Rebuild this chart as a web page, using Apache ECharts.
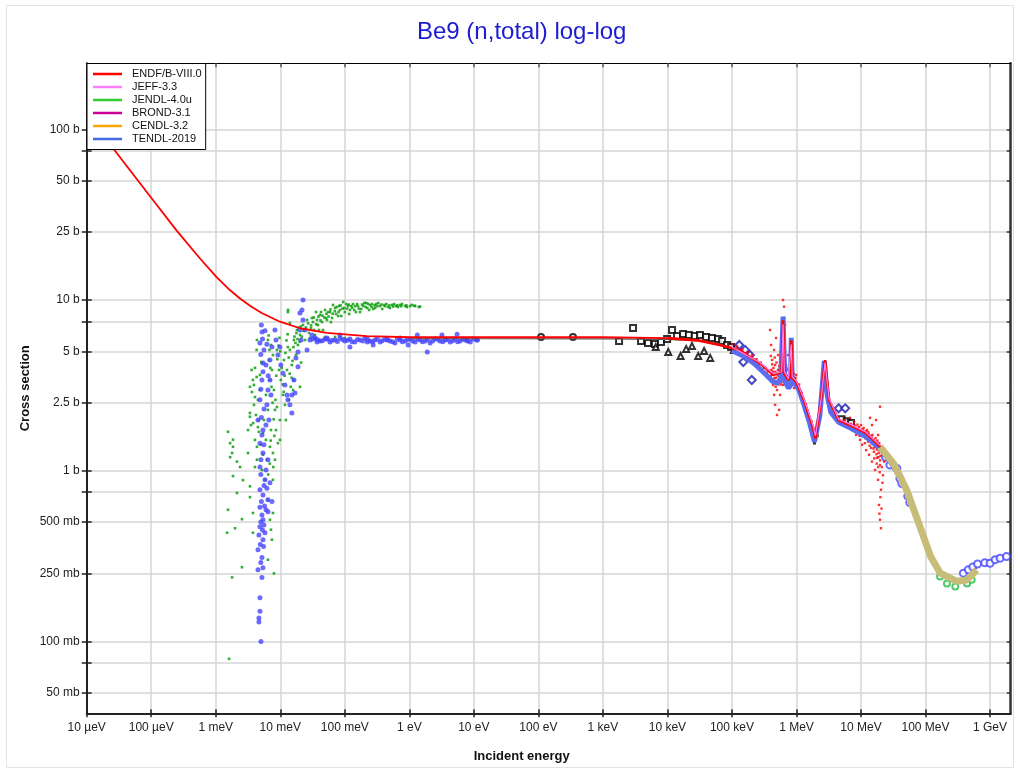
<!DOCTYPE html>
<html><head><meta charset="utf-8">
<script src="https://cdn.jsdelivr.net/npm/echarts@6/dist/echarts.min.js"></script>
<style>html,body{margin:0;padding:0;background:#fff}#c{width:1020px;height:773px}</style>
</head><body><div id="c"></div>
<script>
// ---------- axes ----------
const xTickValues = [1e-5,1e-4,1e-3,1e-2,1e-1,1,10,100,1e3,1e4,1e5,1e6,1e7,1e8,1e9];
const xTickLabels = ['10 µeV','100 µeV','1 meV','10 meV','100 meV','1 eV','10 eV','100 eV','1 keV','10 keV','100 keV','1 MeV','10 MeV','100 MeV','1 GeV'];
const yTickValues = [0.05,0.075,0.1,0.25,0.5,0.75,1,2.5,5,7.5,10,25,50,75,100];
const yLabelValues = [0.05,0.1,0.25,0.5,1,2.5,5,10,25,50,100];
const yLabelTexts = ['50 mb','100 mb','250 mb','500 mb','1 b','2.5 b','5 b','10 b','25 b','50 b','100 b'];
const xMin = 1e-5, xMax = 2.09e9, yMin = 0.0379, yMax = 243.6;

// ---------- evaluated curves (E in eV, sigma in b) ----------
const endfLow = [[1e-5,122.9],[1.61e-5,97.3],[2.56e-5,77.5],[5.96e-5,51.1],[1.02e-4,39.3],[2.48e-4,25.5],[5.7e-4,17.5],[1.03e-3,13.6],[1.67e-3,11.4],[2.38e-3,10.2],[3.39e-3,9.26],[5.15e-3,8.39],[9.88e-3,7.46],[2.02e-2,6.83],[5.25e-2,6.41],[0.218,6.15],[1.03,6.05],[100,6.06],[1e3,6.05],[1e4,5.98]];
const endfHigh = [[1e4,5.98],[3e4,5.8],[6.5e4,5.45],[1.3e5,5.1],[2.7e5,4.26],[4.4e5,3.64],[5.9e5,3.8],[6.2e5,7.6],[6.5e5,3.7],[7.5e5,3.4],[8.1e5,3.6],[8.3e5,5.8],[8.6e5,3.5],[1.0e6,3.3],[1.3e6,2.6],[1.8e6,1.8],[1.97e6,1.55],[2.4e6,2.6],[2.77e6,4.45],[3.2e6,2.6],[4.5e6,1.98],[7.7e6,1.81],[1.2e7,1.66],[2.0e7,1.38]];
const jeffCurve = [[1e5,5.3],[2.7e5,4.3],[4.4e5,3.7],[5.9e5,3.8],[6.2e5,7.2],[6.5e5,3.8],[7.5e5,3.45],[8.3e5,5.5],[8.6e5,3.55],[1.0e6,3.35],[1.3e6,2.65],[1.8e6,1.85],[1.97e6,1.6],[2.4e6,2.6],[2.77e6,4.3],[3.2e6,2.65],[4.5e6,2.0],[7.7e6,1.83],[1.2e7,1.68],[2.0e7,1.4]];
const tendlBand = [[1e5,5.05],[1.6e5,4.65],[2.2e5,4.25],[2.8e5,3.9],[3.5e5,3.6],[4.2e5,3.35],[5.0e5,3.25],[5.7e5,3.45],[6.2e5,8.0],[6.6e5,3.35],[7.5e5,3.05],[8.1e5,3.15],[8.3e5,6.0],[8.6e5,3.25],[9.5e5,3.25],[1.1e6,2.95],[1.3e6,2.45],[1.6e6,1.9],[1.9e6,1.48],[2.3e6,2.1],[2.7e6,4.4],[3.0e6,2.75],[3.4e6,2.2],[4.5e6,1.92],[7e6,1.77],[1.2e7,1.58],[2e7,1.34],[3e7,1.1],[4.5e7,0.84]];
const tanCurve = [[1.97e7,1.38],[3.2e7,1.10],[5.1e7,0.77],[8.2e7,0.47],[1.2e8,0.314],[1.7e8,0.251],[3.05e8,0.225],[4.36e8,0.229],[6.2e8,0.262]];
const blackLine = [[1,5.93],[10,5.93],[1e3,5.92],[1e4,5.88],[3e4,5.75]];

// ---------- experimental points ----------
const expGreen = [[1.55e-3,1.69],[1.85e-3,1.52],[1.79e-3,1.27],[2.13e-3,1.13],[1.67e-3,1.2],[2.38e-3,1.05],[1.85e-3,0.93],[2.64e-3,0.88],[3.39e-3,0.81],[2.13e-3,0.74],[1.55e-3,0.59],[2.55e-3,0.52],[1.5e-3,0.433],[1.79e-3,0.237],[2.55e-3,0.272],[1.61e-3,0.079],[1.99e-3,0.46],[3.77e-3,0.565],[3.39e-3,2.18],[4.05e-3,2.7],[3.77e-3,3.4],[4.35e-3,5.83],[5.2e-3,4.28],[4.35e-3,1.38],[4.05e-3,1.05],[3.39e-3,0.7],[3.77e-3,0.433],[3.16e-3,1.27],[4.51e-3,1.8],[6.44e-3,0.301],[7.98e-3,0.25],[7.7e-3,0.565],[7.7e-3,0.884],[7.7e-3,1.27],[9.88e-3,1.515],[9.88e-3,1.98],[8.88e-3,2.36],[1.31e-2,8.5],[1.6e-2,3.4],[1.31e-2,5.3],[2.02e-2,3.1],[2.1e-2,4.3],
[1.67e-3,1.45],[1.85e-3,1.38],[3.16e-3,1.73],[3.39e-3,2.07],[3.39e-3,3.1],[4.3e-3,3.54],[4.05e-3,4.0],[5.1e-3,4.33],[4.3e-3,5.1],[3.6e-3,3.89],[4.84e-3,2.97],[4.6e-3,1.98],[5.4e-3,1.66],[3.8e-3,1.9],[6.92e-3,1.38],[9.2e-3,1.45],[1.32e-2,8.74],[1.41e-2,7.33],[1.58e-2,2.97],
[3.64e-3,2.89],[3.91e-3,2.43],[4.2e-3,2.12],[4.51e-3,2.6],[4.67e-3,1.69],[5.02e-3,1.42],[5.39e-3,1.24],[5.2e-3,1.01],[4.35e-3,1.16],[4.05e-3,1.515],[3.51e-3,1.85],[3.91e-3,3.18],[4.84e-3,3.64],[6.0e-3,2.78],[5.58e-3,1.98],[6.0e-3,1.515],[6.21e-3,1.16],[5.79e-3,0.884],[6.44e-3,0.675],[6.92e-3,0.516],[7.17e-3,0.451],[7.43e-3,0.394],[6.44e-3,2.27],[7.17e-3,1.73],[6.92e-3,3.4],[6.67e-3,4.45],[6.44e-3,5.83],[7.17e-3,5.45],[7.7e-3,4.76],[7.43e-3,3.89],[7.98e-3,2.97],[8.27e-3,2.27],[8.57e-3,1.73],[8.27e-3,1.16],[8.88e-3,5.1],[9.54e-3,3.89],[1.02e-2,3.4],[1.1e-2,2.78],[1.18e-2,2.43],[1.14e-2,4.45],[1.27e-2,3.89],[1.36e-2,2.6],[1.22e-2,1.98],[1.41e-2,5.1],[1.51e-2,4.16],[1.63e-2,5.83],[1.75e-2,4.76],[1.81e-2,6.67],[1.88e-2,5.45],[2.02e-2,6.24],[2.25e-2,7.14],[2.42e-2,5.83],[2.6e-2,7.64],[2.79e-2,6.41],
[6.6e-3,6.2],[6.8e-3,5.1],[7.0e-3,4.0],[7.3e-3,3.1],[7.6e-3,2.5],[7.9e-3,2.0],[7.1e-3,1.5],[6.9e-3,1.1],[6.5e-3,0.95],[7.8e-3,1.05],[8.1e-3,1.6],[8.4e-3,2.6],[8.7e-3,3.6],[9.0e-3,4.5],[9.4e-3,5.4],[9.7e-3,6.0],[1.0e-2,5.0],[1.05e-2,4.0],[1.09e-2,3.2],[1.13e-2,2.9],[1.17e-2,3.6],[1.2e-2,4.9],[1.25e-2,5.8],[1.3e-2,6.3],[1.35e-2,4.6],[1.4e-2,3.7],[1.45e-2,3.1],[1.5e-2,3.5],[1.55e-2,4.4],[1.6e-2,5.3],[1.66e-2,6.1],[1.72e-2,5.6],[1.78e-2,6.4],[1.85e-2,5.9],[1.92e-2,6.9],[2.0e-2,5.7],[2.08e-2,7.0],[2.16e-2,6.1],[2.3e-2,6.6],[2.5e-2,6.9],[2.7e-2,7.3],
[2.89e-2,5.99],[3.1e-2,7.84],[3.33e-2,6.67],[3.58e-2,8.5],[3.84e-2,7.14],[4.13e-2,8.17],[4.43e-2,7.43],[4.94e-2,8.74],[5.3e-2,7.64],[5.9e-2,8.5],[6.34e-2,7.84],[7.07e-2,8.98],[7.89e-2,8.06],[8.4e-2,8.74],[9.45e-2,9.73],[0.1,8.5],[0.112,9.22],[0.12,8.74],[0.134,9.47],[0.149,8.5],[0.16,9.22],[0.179,8.86],[0.2,9.6],[0.223,8.98],[0.246,9.35],[0.275,8.86],[0.306,9.47],[0.352,9.22],[0.406,9.35],[0.468,9.1],[0.539,9.35],[0.62,9.22],[0.718,9.35],[0.86,9.22],[1.03,9.22],[1.23,9.22],[1.47,9.15],
[2.99e-2,6.85],[3.21e-2,7.43],[3.45e-2,6.24],[3.71e-2,7.64],[3.98e-2,6.67],[4.28e-2,8.5],[4.6e-2,6.67],[5.12e-2,7.84],[5.5e-2,8.5],[6.1e-2,7.43],[6.57e-2,9.35],[7.33e-2,8.28],[8.17e-2,9.22],[8.8e-2,8.06],[9.8e-2,8.98],[0.105,9.47],[0.117,8.28],[0.126,9.22],[0.14,8.74],[0.155,9.47],[0.172,8.5],[0.193,9.22],[0.215,9.6],[0.238,8.74],[0.265,9.47],[0.295,8.98],[0.33,9.6],[0.38,8.86],[0.44,9.47],[0.5,8.98],[0.58,9.47],[0.667,9.1],[0.77,9.47],[0.92,9.1],[1.1,9.35],[1.4,9.1],
[3.0e-2,7.1],[3.3e-2,7.9],[3.6e-2,7.2],[3.9e-2,8.0],[4.2e-2,7.6],[4.5e-2,8.1],[4.8e-2,7.9],[5.2e-2,8.3],[5.6e-2,8.0],[6.0e-2,8.8],[6.5e-2,8.3],[7.0e-2,8.6],[7.5e-2,9.1],[8.0e-2,8.5],[8.6e-2,9.3],[9.2e-2,8.9],[0.108,8.9],[0.115,9.4],[0.13,9.0],[0.145,9.2],[0.165,8.9],[0.185,9.4],[0.21,9.1],[0.23,9.5],[0.26,9.1],[0.29,9.3],[0.32,9.2],[0.37,9.4],[0.42,9.2],[0.49,9.3],[0.56,9.15],[0.65,9.3],[0.75,9.2],[0.9,9.3],[1.2,9.25],
[3.58e-2,5.99],[4.94e-2,6.07],[7.07e-2,6.07],[0.1,5.99]];

const expBlue = [[4.84e-3,1.45],[5.39e-3,1.27],[4.84e-3,1.05],[6.44e-3,1.16],[5.79e-3,0.884],[6.92e-3,0.85],[4.84e-3,0.773],[6.44e-3,0.675],[4.84e-3,0.61],[5.39e-3,0.516],[4.84e-3,0.47],[5.79e-3,0.433],[5.39e-3,0.394],[4.51e-3,0.344],[5.2e-3,0.31],[4.51e-3,0.263],[5.39e-3,0.27],[5.2e-3,0.237],[4.84e-3,0.18],[4.84e-3,0.15],[4.67e-3,0.137],[4.67e-3,0.13],[5.02e-3,0.1],[7.43e-3,0.66],[6.44e-3,0.575],
[5.2e-3,1.62],[5.58e-3,1.42],[5.02e-3,1.16],[6.0e-3,1.01],[5.39e-3,0.72],[6.0e-3,0.59],[5.2e-3,0.55],[5.58e-3,0.48],[4.67e-3,0.42],[6.21e-3,0.79],[5.0e-3,0.95],[5.6e-3,0.82],[5.1e-3,0.66],[5.7e-3,0.62],[5.0e-3,0.5],[5.3e-3,0.45],[4.9e-3,0.37],[5.5e-3,0.36],[5.0e-3,0.29],
[5.1e-3,7.14],[4.84e-3,5.6],[5.39e-3,4.28],[5.2e-3,3.4],[4.84e-3,2.6],[4.51e-3,1.98],[5.39e-3,1.73],[6.92e-3,3.4],[7.43e-3,5.3],[8.27e-3,6.67],[9.88e-3,5.3],[1.1e-2,3.72],[1.31e-2,2.6],[1.51e-2,2.18],[1.69e-2,2.85],[1.88e-2,4.06],[2.1e-2,5.83],[2.25e-2,7.64],[2.25e-2,10],[2.02e-2,8.4],[2.6e-2,5.1],[3.1e-2,6.24],[3.71e-2,5.68],[5.3e-2,5.99],[8.4e-2,6.24],[0.12,5.3],[0.223,5.68],[0.275,5.45],[0.45,5.83],[0.718,5.99],[0.96,5.45],[1.33,6.24],[1.9,4.96],[3.2,6.24],[5.5,6.3],[7.9,5.83],[11.4,5.83],
[5.2e-3,6.5],[5.58e-3,5.1],[6.0e-3,4.16],[6.44e-3,2.97],[6.21e-3,2.43],[6.67e-3,1.98],[6.92e-3,4.45],[7.17e-3,2.78],[6.0e-3,1.85],[5.3e-3,5.9],[5.0e-3,4.8],[5.4e-3,3.8],[5.0e-3,3.0],[5.6e-3,2.3],[5.1e-3,2.05],[5.8e-3,6.6],[6.2e-3,5.5],[6.5e-3,3.6],
[8.57e-3,5.83],[9.2e-3,4.76],[1.02e-2,4.16],[1.18e-2,3.18],[1.27e-2,2.78],[1.41e-2,2.43],[1.51e-2,2.78],[1.63e-2,3.4],[1.75e-2,4.58],[1.88e-2,4.96],[2.02e-2,6.67],[2.17e-2,8.74],[2.42e-2,6.67],
[2.89e-2,5.83],[3.45e-2,5.99],[4.13e-2,5.76],[4.94e-2,5.91],[5.9e-2,5.68],[7.07e-2,5.83],[8.4e-2,5.99],[0.1,5.76],[0.12,5.91],[0.143,5.68],[0.172,5.83],[0.205,5.99],[0.246,5.76],[0.295,5.83],[0.352,5.68],[0.42,5.91],[0.5,5.76],[0.6,5.6],[0.718,5.83],[0.86,5.76],[1.03,5.91],[1.23,5.68],[1.47,5.83],[1.76,5.76],[2.1,5.6],[2.5,5.91],[2.99,5.76],[3.6,5.83],[4.3,5.68],[5.1,5.91],[6.1,5.76],[7.3,5.83],[8.8,5.68],[11,5.83],
[3.2e-2,5.9],[3.8e-2,5.85],[4.5e-2,5.78],[5.4e-2,5.88],[6.4e-2,5.8],[7.7e-2,5.72],[9.2e-2,5.86],[0.11,5.8],[0.13,5.7],[0.157,5.86],[0.19,5.75],[0.225,5.88],[0.27,5.7],[0.32,5.9],[0.38,5.78],[0.46,5.86],[0.55,5.7],[0.65,5.9],[0.78,5.7],[0.94,5.86],[1.12,5.76],[1.35,5.9],[1.6,5.7],[1.92,5.86],[2.3,5.76],[2.75,5.88],[3.3,5.7],[3.9,5.86],[4.7,5.78],[5.6,5.7],[6.7,5.9],[8.0,5.75],[9.7,5.9]];

const expBlackCircles = [[110,6.07],[344,6.07]];
const expBlackSquares = [[1.78e3,5.76],[2.93e3,6.85],[3.9e3,5.76],[5e3,5.6],[6.4e3,5.52],[7.96e3,5.68],[9.9e3,5.91],[1.18e4,6.67],[1.41e4,6.15],[1.75e4,6.32],[2.15e4,6.24],[2.66e4,6.15],[3.2e4,6.24],[3.98e4,6.07],[4.9e4,5.99],[6.1e4,5.91],[7.03e4,5.76],[8.4e4,5.45],[9.7e4,5.3],[5e6,2.0],[6e6,1.95],[7e6,1.9]];
const expBlackTriangles = [[6.6e3,5.3],[1.03e4,4.96],[1.6e4,4.7],[1.95e4,5.17],[2.4e4,5.38],[3e4,4.7],[3.7e4,5.03],[4.6e4,4.58],[1.07e5,5.1]];
const expBlackDots = [[1.5e6,2.1],[1.9e6,1.45],[2.1e6,1.6],[3.5e6,2.2],[4e6,2.05],[5e6,1.9],[6e6,1.85]];
const expBlueDiamonds = [[1.3e5,5.45],[1.6e5,5.1],[1.9e5,4.76],[1.5e5,4.33],[2.03e5,3.4],[4.5e6,2.32],[5.7e6,2.32]];
const expRed = [[3.9e5,6.67],[4.04e5,5.45],[4.19e5,4.45],[4.19e5,3.64],[4.34e5,3.18],[4.5e5,5.1],[4.5e5,2.78],[4.66e5,4.16],[4.66e5,2.43],[4.83e5,5.99],[4.83e5,3.49],[5.0e5,2.97],[5.18e5,4.76],[5.18e5,3.89],[5.37e5,3.31],[5.57e5,4.33],[5.57e5,2.78],[5.77e5,3.78],[5.98e5,5.1],[6.19e5,3.18],[6.42e5,7.84],[6.42e5,5.83],[6.65e5,3.64],[6.89e5,4.16],[7.14e5,3.31],[7.4e5,4.76],[7.67e5,3.78],[7.95e5,3.18],[8.24e5,5.45],[8.54e5,3.49],[8.85e5,3.89],[9.17e5,3.05],[9.5e5,3.4],[9.85e5,3.64],[6.42e5,9.14],[6.65e5,7.14],[6.19e5,10],[5.37e5,2.27],[5.0e5,2.12],
[4.1e5,3.9],[4.25e5,3.3],[4.4e5,4.0],[4.55e5,3.5],[4.7e5,3.8],[4.9e5,3.3],[5.1e5,3.6],[5.3e5,3.9],[5.5e5,3.5],[5.7e5,3.2],[5.9e5,3.7],[6.0e5,4.5],[6.3e5,6.5],[6.35e5,5.2],[6.5e5,4.4],[6.7e5,3.9],[6.95e5,3.6],[7.2e5,3.9],[7.5e5,3.5],[7.8e5,3.3],[8.0e5,3.6],[8.3e5,4.4],[8.7e5,3.6],[9.0e5,3.3],[9.3e5,3.5],[9.7e5,3.3],
[4.0e5,4.7],[4.2e5,4.2],[4.3e5,3.8],[4.45e5,3.4],[4.6e5,4.6],[4.75e5,3.1],[4.9e5,4.3],[5.05e5,3.7],[5.2e5,3.2],[5.4e5,4.1],[5.6e5,3.6],[5.75e5,4.3],[5.85e5,3.3],[6.05e5,3.9],[6.1e5,5.6],[6.25e5,4.9],[6.4e5,4.2],[6.55e5,3.4],[6.8e5,3.3],[7.0e5,4.0],[7.3e5,3.6],[7.6e5,3.4],[7.9e5,3.9],[8.1e5,3.4],[8.4e5,3.7],[8.8e5,3.5],[9.1e5,3.7],[9.6e5,3.5],
[1.0e5,5.5],[1.1e5,5.2],[1.2e5,5.35],[1.3e5,5.0],[1.45e5,5.15],[1.6e5,4.8],[1.75e5,4.95],[1.9e5,4.6],[2.05e5,4.75],[2.2e5,4.4],[2.4e5,4.5],[2.6e5,4.15],[2.8e5,4.3],[3.0e5,3.95],[3.25e5,4.05],[3.5e5,3.75],[3.75e5,3.85],[4.0e5,3.6],
[1.1e6,3.2],[1.2e6,2.85],[1.4e6,2.45],[1.55e6,2.15],[1.7e6,1.95],[1.85e6,1.7],[2.0e6,1.62],[2.2e6,2.1],[2.5e6,3.0],[2.65e6,3.9],[2.8e6,4.1],[2.9e6,3.3],[3.1e6,2.8],[3.4e6,2.4],[3.8e6,2.15],[4.2e6,2.05],
[5.66e6,1.98],[6.3e6,1.85],[6.77e6,2.04],[7.3e6,1.73],[7.8e6,1.93],[8.4e6,1.62],[9.0e6,1.78],[9.67e6,1.515],[1.0e7,1.85],[1.04e7,1.42],[1.08e7,1.69],[1.16e7,1.55],[1.2e7,1.32],[1.24e7,1.73],[1.29e7,1.48],[1.33e7,1.24],[1.38e7,1.6],[1.43e7,1.36],[1.48e7,1.13],[1.54e7,1.515],[1.59e7,1.29],[1.65e7,1.01],[1.71e7,1.42],[1.77e7,1.19],[1.84e7,0.884],[1.9e7,1.32],[1.97e7,1.08],[2.04e7,0.773],[2.12e7,1.24],[2.19e7,0.94],[1.97e7,0.516],[2.04e7,0.46],[1.9e7,0.63],[2.27e7,1.13],[1.84e7,1.62],[1.71e7,1.98],[1.48e7,1.85],[1.38e7,2.04],[1.97e7,2.37],
[6.0e6,1.9],[6.5e6,1.78],[7.0e6,1.88],[7.5e6,1.76],[8.0e6,1.84],[8.7e6,1.72],[9.3e6,1.8],[9.9e6,1.66],[1.06e7,1.75],[1.12e7,1.62],[1.18e7,1.7],[1.26e7,1.58],[1.32e7,1.64],[1.4e7,1.5],[1.46e7,1.58],[1.52e7,1.44],[1.58e7,1.52],[1.64e7,1.38],[1.7e7,1.47],[1.76e7,1.33],[1.82e7,1.42],[1.88e7,1.27],[1.94e7,1.36],[2.0e7,1.22],[1.6e7,1.18],[1.75e7,1.1],[1.85e7,1.05],[1.95e7,0.98],
[8.2e6,1.7],[8.8e6,1.86],[9.5e6,1.6],[1.02e7,1.7],[1.1e7,1.78],[1.15e7,1.45],[1.22e7,1.6],[1.3e7,1.68],[1.36e7,1.4],[1.42e7,1.55],[1.5e7,1.62],[1.56e7,1.35],[1.62e7,1.46],[1.68e7,1.55],[1.74e7,1.25],[1.8e7,1.5],[1.86e7,1.2],[1.92e7,1.45],[1.98e7,1.15],[2.05e7,1.35],[2.1e7,1.05],[2.15e7,0.85],[2.0e7,0.7],[1.93e7,0.56],[2.08e7,0.6]];
const expBlueCircles = [[2.4e7,1.2],[2.8e7,1.08],[3.6e7,1.03],[4.0e7,0.9],[4.3e7,0.84],[5.3e7,0.71],[5.7e7,0.65],[3.86e8,0.251],[4.6e8,0.263],[5.4e8,0.273],[6.4e8,0.284],[8.3e8,0.289],[1e9,0.287],[1.2e9,0.301],[1.43e9,0.307],[1.8e9,0.314]];
const expGreenCircles = [[1.68e8,0.24],[2.15e8,0.218],[2.9e8,0.21],[4.4e8,0.218],[5.2e8,0.23]];

// ---------- chart ----------
const FONT = 'Liberation Sans, Arial, sans-serif';
function xLabel(v){ const l=Math.round(Math.log10(v)); const i=xTickValues.findIndex(t=>Math.round(Math.log10(t))===l); return i>=0?xTickLabels[i]:''; }
function yLabel(v){ let best=0,bd=1e9; yLabelValues.forEach((t,i)=>{const d=Math.abs(Math.log10(t)-Math.log10(v)); if(d<bd){bd=d;best=i;}}); return yLabelTexts[best]; }

function xAx(extra){ return Object.assign({type:'log',logBase:10,min:xMin,max:xMax,
  axisLine:{show:false},axisTick:{show:false},axisLabel:{show:false},splitLine:{show:false}},extra); }
function yAx(extra){ return Object.assign({type:'log',logBase:10,min:yMin,max:yMax,
  axisLine:{show:false},axisTick:{show:false},axisLabel:{show:false},splitLine:{show:false}},extra); }

const chart = echarts.init(document.getElementById('c'), null, {renderer:'canvas'});
const lineSeries = (name, data, color, width, extra) => Object.assign({name, type:'line', data, showSymbol:false, symbol:'none',
  lineStyle:{color, width}, itemStyle:{color}, xAxisIndex:0, yAxisIndex:0, silent:true}, extra||{});
const scat = (name, data, symbol, size, color, extra) => Object.assign({name, type:'scatter', data, symbol, symbolSize:size,
  itemStyle:{color}, xAxisIndex:0, yAxisIndex:0, silent:true}, extra||{});

const legendNames = ['ENDF/B-VIII.0','JEFF-3.3','JENDL-4.0u','BROND-3.1','CENDL-3.2','TENDL-2019'];
chart.setOption({
  animation:false,
  backgroundColor:'#fff',
  graphic:[{type:'rect', silent:true, z:-10, shape:{x:6.5, y:5.5, width:1007, height:762}, style:{fill:'none', stroke:'#e2e2e2', lineWidth:1}}],
  title:{text:'Be9 (n,total) log-log', left:417, top:20, padding:0, textStyle:{fontFamily:FONT, fontSize:24, fontWeight:'normal', color:'#1c1cd0'}},
  grid:{left:86.7, right:9.3, top:63.3, bottom:59.7, containLabel:false},
  legend:{orient:'vertical', left:87, top:63.5, padding:[5,4,5,6], itemGap:2, itemWidth:29, itemHeight:2.5, icon:'rect',
    backgroundColor:'#fff', borderColor:'#000', borderWidth:1, borderRadius:0,
    textStyle:{fontFamily:FONT, fontSize:11, color:'#111', padding:[0,0,0,5], lineHeight:11},
    data:legendNames},
  xAxis:[
    xAx({position:'bottom', axisLine:{show:true, lineStyle:{color:'#222', width:2}},
      axisTick:{show:true, inside:false, length:4, customValues:xTickValues, lineStyle:{color:'#222', width:1.5}},
      axisLabel:{show:true, customValues:xTickValues, formatter:xLabel, fontFamily:FONT, fontSize:12, color:'#222', margin:8},
      splitLine:{show:true, lineStyle:{color:'#d6d6d6', width:1.5}},
      name:'Incident energy', nameLocation:'middle', nameGap:37, nameMoveOverlap:false, nameTextStyle:{fontFamily:FONT, fontSize:13, fontWeight:'bold', color:'#111', padding:[0,54,0,0]}}),
    xAx({position:'bottom', axisTick:{show:true, inside:true, length:4, customValues:xTickValues, lineStyle:{color:'#222', width:1.5}}}),
    xAx({position:'top', axisLine:{show:true, lineStyle:{color:'#000', width:1}},
      axisTick:{show:true, inside:true, length:4, customValues:xTickValues, lineStyle:{color:'#555', width:1.5}}})
  ],
  yAxis:[
    yAx({position:'left', axisLine:{show:true, lineStyle:{color:'#222', width:2}},
      axisTick:{show:true, inside:false, length:5, customValues:yTickValues, lineStyle:{color:'#222', width:1.5}},
      axisLabel:{show:true, customValues:yLabelValues, formatter:yLabel, fontFamily:FONT, fontSize:12, color:'#222', margin:7},
      splitLine:{show:true, lineStyle:{color:'#d6d6d6', width:1.5}},
      name:'Cross section', nameLocation:'middle', nameGap:55, nameMoveOverlap:false, nameRotate:90, nameTextStyle:{fontFamily:FONT, fontSize:13, fontWeight:'bold', color:'#111'}}),
    yAx({position:'left', axisTick:{show:true, inside:true, length:5, customValues:yTickValues, lineStyle:{color:'#222', width:1.5}}}),
    yAx({position:'right', axisLine:{show:true, lineStyle:{color:'#333', width:2.5}},
      axisTick:{show:true, inside:true, length:4, customValues:yTickValues, lineStyle:{color:'#333', width:1.5}}})
  ],
  series:[
    scat('exp-green', expGreen, 'rect', 2.6, '#009a00'),
    scat('exp-blue', expBlue, 'circle', 5, '#4646ff'),
    lineSeries('exp-line', blackLine, '#555', 1.2),
    scat('exp-circ', expBlackCircles, 'emptyCircle', 6, '#000', {itemStyle:{color:'#000', borderColor:'#000', borderWidth:1}}),
    scat('exp-sq', expBlackSquares, 'emptyRect', 6, '#000', {itemStyle:{color:'#000', borderColor:'#000', borderWidth:1}}),
    scat('exp-tri', expBlackTriangles, 'emptyTriangle', 6, '#000', {itemStyle:{color:'#000', borderColor:'#000', borderWidth:1}}),
    lineSeries('exp-band', tendlBand, '#5a6cf0', 5),
    scat('exp-dots', expBlackDots, 'rect', 3, '#111'),
    scat('exp-diam', expBlueDiamonds, 'emptyDiamond', 8, '#1a1ab0', {itemStyle:{color:'#1a1ab0', borderColor:'#1a1ab0', borderWidth:1.5}}),
    lineSeries('exp-tan', tanCurve, '#c8bd78', 7),
    scat('exp-bcirc', expBlueCircles, 'emptyCircle', 7, '#4646ff', {itemStyle:{color:'#4646ff', borderColor:'#4646ff', borderWidth:1.2}}),
    scat('exp-gcirc', expGreenCircles, 'emptyCircle', 6, '#22bb44', {itemStyle:{color:'#22bb44', borderColor:'#22bb44', borderWidth:1.2}}),
    lineSeries('TENDL-2019', endfHigh, '#4169e1', 1.5),
    lineSeries('CENDL-3.2', endfHigh, '#ffa500', 1.5),
    lineSeries('BROND-3.1', endfHigh, '#cc0099', 1.5),
    lineSeries('JENDL-4.0u', endfHigh, '#33cc33', 1.5),
    scat('exp-red', expRed, 'rect', 2.4, '#ff0000'),
    lineSeries('ENDF/B-VIII.0', endfLow, '#ff0000', 1.8),
    lineSeries('ENDF/B-VIII.0', endfHigh, '#ff0000', 2.6),
    lineSeries('JEFF-3.3', jeffCurve, '#ff80ff', 1.2)
  ]
});
</script></body></html>
